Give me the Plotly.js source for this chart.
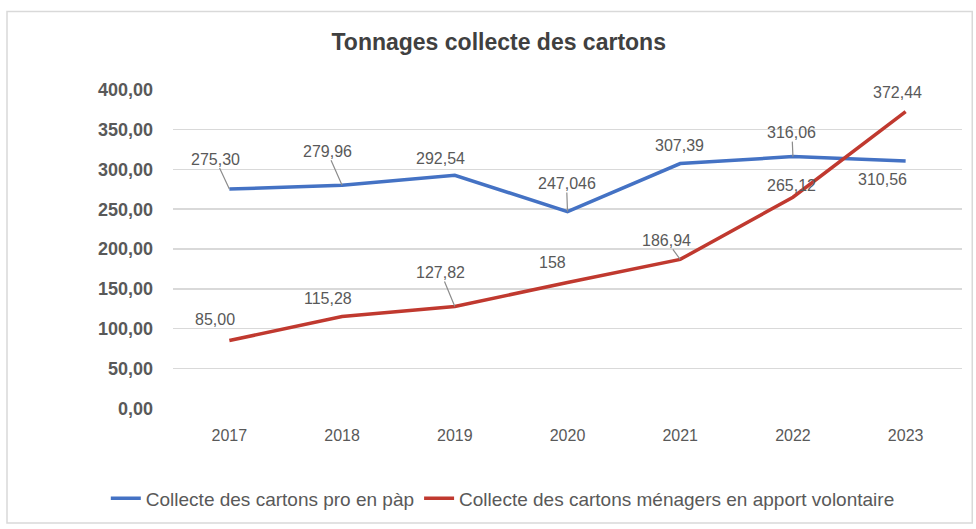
<!DOCTYPE html>
<html>
<head>
<meta charset="utf-8">
<script src="https://cdn.plot.ly/plotly-3.0.1.min.js"></script>
<style>html,body{margin:0;padding:0;background:#fff;}#chart{width:976px;height:529px;}</style>
</head>
<body>
<div id="chart"></div>
<script>
const years = ['2017','2018','2019','2020','2021','2022','2023'];
const proValues = [275.30, 279.96, 292.54, 247.046, 307.39, 316.06, 310.56];
const proLabels = ['275,30','279,96','292,54','247,046','307,39','316,06','310,56'];
const menValues = [85.00, 115.28, 127.82, 158, 186.94, 265.12, 372.44];
const menLabels = ['85,00','115,28','127,82','158','186,94','265,12','372,44'];
const seriesNames = ['Collecte des cartons pro en pàp', 'Collecte des cartons ménagers en apport volontaire'];
const chartTitle = 'Tonnages collecte des cartons';

const FONT = 'Liberation Sans, Arial, sans-serif';
const BLUE = '#4472C4';
const RED = '#C0392F';
const LABEL = '#595959';

// label offsets (pixels) and whether a leader line is visible
const proOff = [[-14,-30,1],[-15,-34,1],[-14,-17,0],[-1,-28,1],[-1,-18,0],[-1,-24,1],[-23,19,0]];
const menOff = [[-14,-21,0],[-14,-18,0],[-14,-34,1],[-15,-20,0],[-14,-19,1],[-1,-12,0],[-8,-19,0]];

const annotations = [];
function addLabels(vals, labels, offs) {
  vals.forEach((v, i) => {
    annotations.push({
      x: i, y: v, xref: 'x', yref: 'y',
      text: labels[i], showarrow: true,
      ax: offs[i][0], ay: offs[i][1],
      arrowhead: 0, arrowwidth: 1.2, standoff: 0, borderpad: 0,
      arrowcolor: offs[i][2] ? '#8c8c8c' : 'rgba(0,0,0,0)',
      font: {family: FONT, size: 16, color: LABEL}
    });
  });
}
addLabels(proValues, proLabels, proOff);
addLabels(menValues, menLabels, menOff);

const traces = [
  {x: years, y: proValues, name: seriesNames[0], type: 'scatter', mode: 'lines',
   line: {color: BLUE, width: 3.5}},
  {x: years, y: menValues, name: seriesNames[1], type: 'scatter', mode: 'lines',
   line: {color: RED, width: 3.5}}
];

const layout = {
  width: 976, height: 529,
  margin: {l: 173, r: 14, t: 89, b: 117},
  paper_bgcolor: '#fff', plot_bgcolor: '#fff',
  separators: ', ',
  title: {text: chartTitle, x: 0.511, xanchor: 'center', y: 0.921, yanchor: 'middle',
          font: {family: FONT, size: 23, color: '#404040', weight: 'bold'}},
  xaxis: {type: 'category', range: [-0.5, 6.5], autorange: false, showgrid: false, zeroline: false,
          showline: false, ticks: '', ticklabelstandoff: 15,
          tickfont: {family: FONT, size: 16, color: LABEL}},
  yaxis: {range: [-1, 401], autorange: false, tickvals: [0,50,100,150,200,250,300,350,400],
          tickformat: '.2f', showgrid: true, gridcolor: '#d9d9d9',
          gridwidth: 1.5, zeroline: false, showline: false, ticks: '', ticklabelstandoff: 19,
          tickfont: {family: FONT, size: 18, color: LABEL, weight: 'bold'}},
  showlegend: true,
  legend: {orientation: 'h', x: 0.418, xanchor: 'center', y: -0.279, yanchor: 'middle',
           font: {family: FONT, size: 19, color: LABEL}, itemwidth: 30, tracegroupgap: 0},
  annotations: annotations,
  shapes: [
    {type: 'rect', xref: 'paper', yref: 'paper', x0: -0.2104, x1: 1.013, y0: -0.356, y1: 1.242,
     line: {color: '#d9d9d9', width: 1.5}, fillcolor: 'rgba(0,0,0,0)', layer: 'below'}
  ]
};

Plotly.newPlot('chart', traces, layout, {displayModeBar: false, staticPlot: true});
</script>
</body>
</html>
